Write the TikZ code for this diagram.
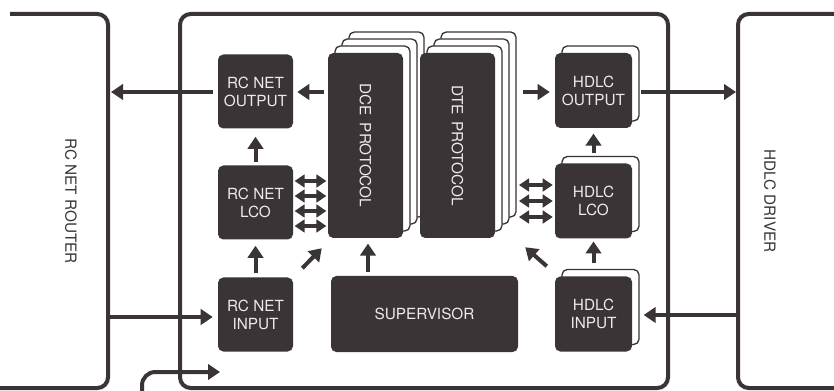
\documentclass[tikz,border=0pt]{standalone}
\usepackage{fontspec}
\setmainfont{TeX Gyre Heros}
\usetikzlibrary{arrows.meta,calc}
\definecolor{ink}{HTML}{3A3436}
\definecolor{lbl}{HTML}{ECEAEA}
\tikzset{
  blk/.style={fill=ink, rounded corners=4pt, text=lbl, align=center,
    font=\fontsize{11.5}{13.5}\selectfont, inner sep=0pt},
  lay/.style={draw=ink, fill=white, line width=1pt, rounded corners=4pt, inner sep=0pt},
  frm/.style={draw=ink, line width=3pt, rounded corners=8pt},
  arr/.style={draw=ink, line width=3pt, -{Triangle[length=9pt,width=11.5pt]}},
  darr/.style={draw=ink, line width=2.7pt,
    {Triangle[length=7.5pt,width=9.5pt]}-{Triangle[length=7.5pt,width=9.5pt]}},
  sidelbl/.style={text=ink, rotate=-90, font=\fontsize{11.5}{13.5}\selectfont},
  vlbl/.style={text=lbl, rotate=-90, font=\fontsize{11.5}{13.5}\selectfont},
  small/.style={minimum width=56.25pt, minimum height=55.5pt},
  hsmall/.style={minimum width=57.75pt, minimum height=56.25pt},
  tall/.style={minimum width=56.25pt, minimum height=138.75pt}
}
\begin{document}
\begin{tikzpicture}[x=0.75pt,y=-0.75pt]
\clip (0,0) rectangle (834,391);
\fill[white] (0,0) rectangle (834,391);

% frames
\draw[frm] (10,14) -- (108,14) -- (108,388) -- (-10,388);
\draw[frm] (180,14) rectangle (668,388);
\draw[frm] (850,14) -- (738,14) -- (738,388) -- (850,388);
\node[sidelbl] (router) at (71,201) {RC NET ROUTER};
\node[sidelbl] (driver) at (770,201) {HDLC DRIVER};

% RC NET blocks
\node[blk, small] (rcout) at (255.5,91.5) {RC NET\\OUTPUT};
\node[blk, small] (rclco) at (255.5,202.5) {RC NET\\LCO};
\node[blk, small] (rcin) at (255.5,314.5) {RC NET\\INPUT};

% DCE stack
\node[lay, tall] (dceC) at (386.5,124.5) {};
\node[lay, tall] (dceB) at (379.5,131.5) {};
\node[lay, tall] (dceA) at (372.5,138.5) {};
\node[blk, tall] (dce) at (365.5,145.5) {};
\node[vlbl] (dcet) at (dce.center) {DCE\hspace{0.45em}PROTOCOL};

% DTE stack
\node[lay, tall] (dteC) at (478.5,124.5) {};
\node[lay, tall] (dteB) at (471.5,131.5) {};
\node[lay, tall] (dteA) at (464.5,138.5) {};
\node[blk, tall] (dte) at (457.5,145.5) {};
\node[vlbl] (dtet) at (dte.center) {DTE\hspace{0.4em}PROTOCOL};

% supervisor
\node[blk, minimum width=140.25pt, minimum height=57pt] (sup) at (424.5,314) {SUPERVISOR};

% HDLC blocks
\node[lay, hsmall] (houtA) at (600.5,83.5) {};
\node[blk, hsmall] (hout) at (593.5,90.5) {HDLC\\OUTPUT};
\node[lay, hsmall] (hlcoA) at (600.5,194) {};
\node[blk, hsmall] (hlco) at (593.5,201) {HDLC\\LCO};
\node[lay, hsmall] (hinA) at (600.5,307) {};
\node[blk, hsmall] (hin) at (593.5,314) {HDLC\\INPUT};

% connection points on the outer frames
\coordinate (lbo) at (111,92);
\coordinate (lbi) at (108,317);
\coordinate (rbo) at (736,92);
\coordinate (rbi) at (738,315);
\coordinate (cs) at (142,400);
\coordinate (ce) at (220,372);

% left side arrows
\draw[arr, shorten <=3pt] (dce.west |- lbo) -- ([xshift=3pt]rcout.east |- lbo);
\draw[arr, shorten <=3.5pt] (rcout.west |- lbo) -- (lbo);
\draw[arr, shorten <=2.5pt, shorten >=6pt] (rclco.north) -- (rcout.south);
\draw[arr, shorten <=3.5pt, shorten >=4.5pt] (rcin.north) -- (rclco.south);
\draw[arr, shorten >=3.75pt] (lbi) -- (rcin.west |- lbi);
\draw[arr, rounded corners=10pt] (cs) |- (ce);

% RC NET LCO <-> DCE
\foreach \i/\yy in {1/181,2/196,3/211,4/226}{
  \coordinate (rr\i) at (0,\yy);
  \draw[darr, shorten <=1pt, shorten >=1pt] (rclco.east |- rr\i) -- (dce.west |- rr\i);
}

% supervisor and diagonal arrows
\draw[arr, shorten <=3pt, shorten >=4pt] (sup.north -| 368,0) -- (dce.south -| 368,0);
\draw[arr] ($(rcin.north east)+(9,-9)$) -- ($(dce.south west)+(-6,10)$);
\draw[arr] ($(hin.north west)+(-8,-10)$) -- ($(dte.south east)+(30,9)$);

% DTE -> HDLC output
\draw[arr, shorten >=3.75pt] ($(dteC.east |- lbo)+(6,0)$) -- (hout.west |- lbo);
% HDLC side
\draw[arr] ($(houtA.east |- rbo)+(1,0)$) -- (rbo);
\draw[arr, shorten >=3pt] (rbi) -- ($(hinA.east |- rbi)$);
\draw[arr, shorten <=2pt, shorten >=4pt] (hlcoA.north -| hlco.north) -- (hout.south);
\draw[arr, shorten <=4pt, shorten >=2pt] (hinA.north -| hin.north) -- (hlco.south);

\foreach \i/\yy in {1/185,2/201,3/217}{
  \coordinate (hh\i) at (519,\yy);
  \draw[darr, shorten >=1.5pt] (hh\i) -- (hlco.west |- hh\i);
}
\end{tikzpicture}
\end{document}
